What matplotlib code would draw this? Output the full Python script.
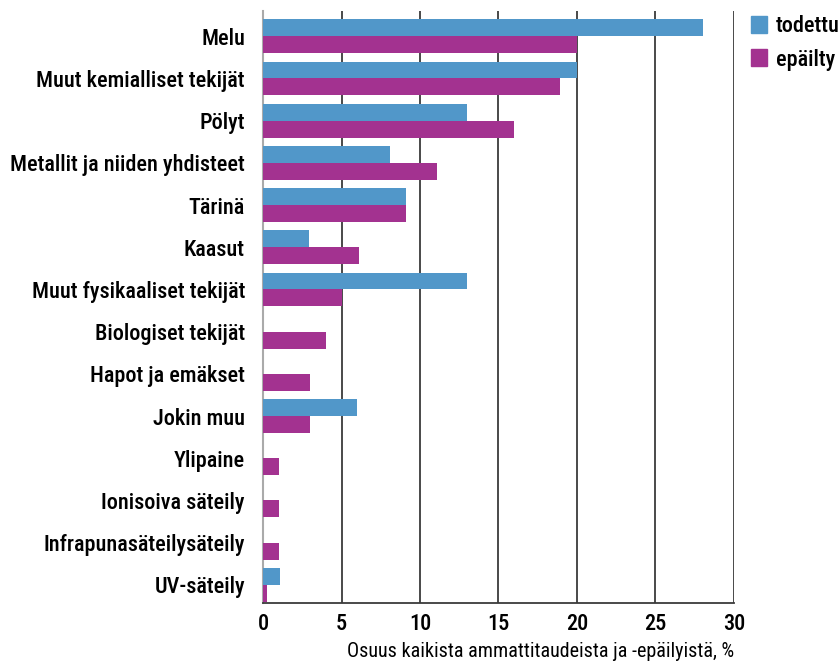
import matplotlib

matplotlib.use("Agg")

import matplotlib.pyplot as plt
import numpy as np
from matplotlib.patches import Patch

BLUE = "#5197c9"
PURPLE = "#a33290"
GRID = "#3a3a3a"

plt.rcParams["font.family"] = ["Roboto Condensed", "Sofia Sans Condensed", "DejaVu Sans"]
plt.rcParams["font.weight"] = "medium"

categories = ["Melu", "Muut kemialliset tekijät", "Pölyt",
              "Metallit ja niiden yhdisteet", "Tärinä", "Kaasut",
              "Muut fysikaaliset tekijät", "Biologiset tekijät",
              "Hapot ja emäkset", "Jokin muu", "Ylipaine",
              "Ionisoiva säteily", "Infrapunasäteilysäteily", "UV-säteily"]
todettu = [28, 20, 13, 8.1, 9.1, 2.9, 13, 0, 0, 6, 0, 0, 0, 1.1]
epailty = [20, 18.9, 16, 11.1, 9.1, 6.1, 5, 4, 3, 3, 1, 1, 1, 0.25]
xticks = [0, 5, 10, 15, 20, 25, 30]

fig = plt.figure(figsize=(8.4, 6.61), dpi=100)
ax = fig.add_axes([0.3131, 0.0877, 0.5607, 0.8957])

y = np.arange(len(categories))
h = 0.4
ax.barh(y - h / 2, todettu, height=h, color=BLUE, zorder=3)
ax.barh(y + h / 2, epailty, height=h, color=PURPLE, zorder=3)

ax.set_xlim(0, 30)
ax.set_ylim(13.43, -0.6)
ax.set_xticks(xticks)
ax.set_xticklabels([str(t) for t in xticks], fontsize=16)
ax.set_yticks(y)
ax.set_yticklabels(categories, fontsize=16)
ax.tick_params(length=0, pad=13)
ax.tick_params(axis="x", pad=7)

for x in xticks[1:]:
    ax.axvline(x, color=GRID, lw=1.3, zorder=1)

for s in ("top", "right"):
    ax.spines[s].set_visible(False)
ax.spines["left"].set_color("#aaaaaa")
ax.spines["left"].set_linewidth(1.5)
ax.spines["bottom"].set_color(GRID)
ax.spines["bottom"].set_linewidth(1.3)

ax.set_xlabel("Osuus kaikista ammattitaudeista ja -epäilyistä, %",
              fontsize=14.5, fontweight="normal", loc="right", labelpad=5)

handles = [Patch(color=BLUE, label="todettu"), Patch(color=PURPLE, label="epäilty")]
fig.legend(handles=handles, loc="upper left", bbox_to_anchor=(0.883, 0.99),
           frameon=False, fontsize=16, handlelength=0.75, handleheight=0.8,
           handletextpad=0.4, borderaxespad=0, labelspacing=0.5)

fig.savefig("out.png", dpi=100)
